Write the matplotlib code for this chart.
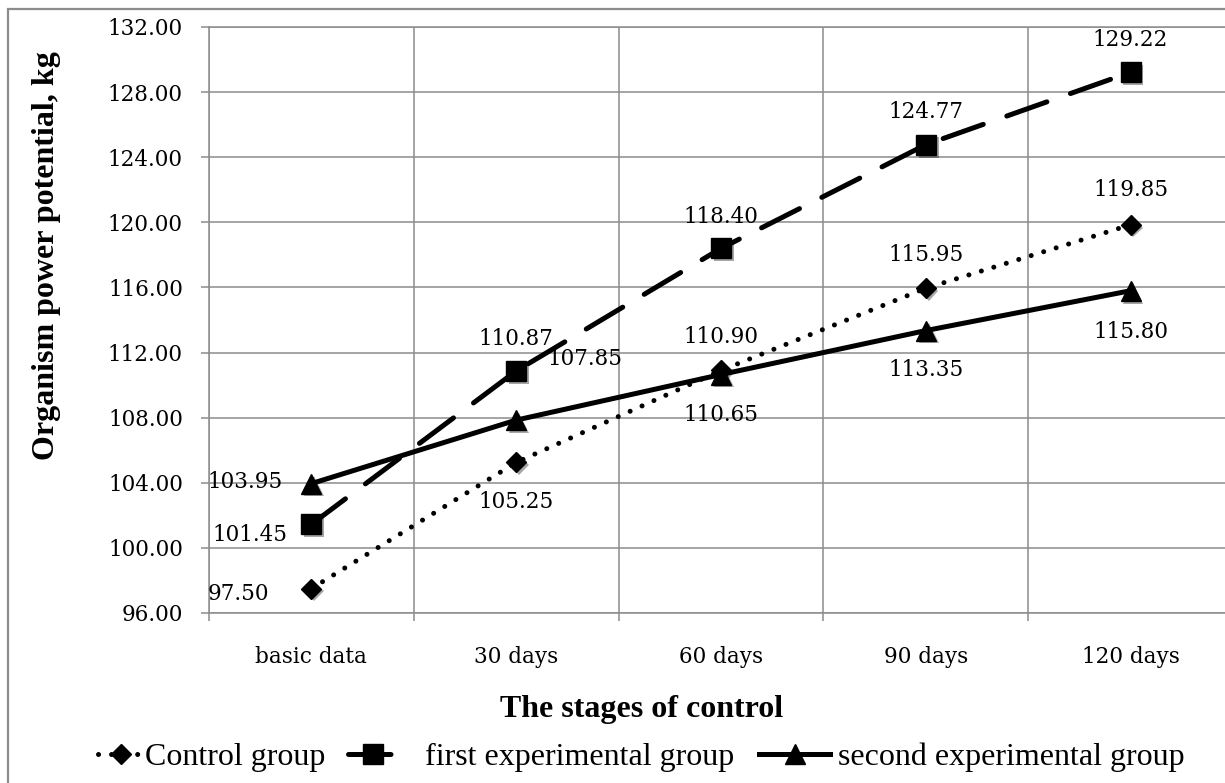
import numpy as np
import matplotlib
matplotlib.use('Agg')
import matplotlib.pyplot as plt
import matplotlib.patheffects as pe
from matplotlib.patches import Rectangle
from matplotlib.font_manager import FontProperties

# data
stages = ['basic data', '30 days', '60 days', '90 days', '120 days']
control = [97.50, 105.25, 110.90, 115.95, 119.85]
first_exp = [101.45, 110.87, 118.40, 124.77, 129.22]
second_exp = [103.95, 107.85, 110.65, 113.35, 115.80]
yticks = [96, 100, 104, 108, 112, 116, 120, 124, 128, 132]

# label offsets in pixels (dx right, dy down) from each point
off_control = [(-73, 3), (0, 37), (0, -36), (0, -36), (0, -37)]
off_first = [(-61, 8), (0, -34), (0, -34), (0, -35), (0, -35)]
off_second = [(-66, -4), (69, -64), (0, 38), (0, 37), (0, 39)]

W, H = 1225, 783
plt.rcParams['font.family'] = 'DejaVu Serif'
grid_c = '#8c8c8c'
times = 'Liberation Serif'

fig = plt.figure(figsize=(W / 100, H / 100), dpi=100)
ax = fig.add_axes([209 / W, 1 - 613 / H, 1024 / W, 586 / H])

x = np.arange(len(stages))
shadow = [pe.SimplePatchShadow(offset=(2, -2), alpha=0.35)]

# shadows under the markers
ax.plot(x, control, ls='none', marker='D', ms=10, color='black', path_effects=shadow, zorder=2)
ax.plot(x, first_exp, ls='none', marker='s', ms=14.5, color='black', path_effects=shadow, zorder=2)
ax.plot(x, second_exp, ls='none', marker='^', ms=14.5, color='black', path_effects=shadow, zorder=2)

l_first, = ax.plot(x, first_exp, color='black', lw=3.6, dashes=(8.5, 5), dash_capstyle='round',
                   marker='s', ms=14.5, zorder=3)
l_second, = ax.plot(x, second_exp, color='black', lw=3.6, marker='^', ms=14.5, zorder=4)
l_ctrl, = ax.plot(x, control, color='black', lw=3.6, dashes=(0.01, 2.6), dash_capstyle='round',
                  marker='D', ms=10, zorder=5)

for vals, offs in [(control, off_control), (first_exp, off_first), (second_exp, off_second)]:
    for i, v in enumerate(vals):
        dx, dy = offs[i]
        ax.annotate(f'{v:.2f}', (i, v), xytext=(dx, -dy), textcoords='offset pixels',
                    ha='center', va='center_baseline', fontsize=15.5, color='black', zorder=6)

ax.set_xlim(-0.5, len(stages) - 0.5)
ax.set_ylim(96, 132)
ax.set_xticks(np.arange(-0.5, len(stages), 1))
ax.set_xticklabels([])
ax.set_xticks(x, minor=True)
ax.set_xticklabels(stages, minor=True)
ax.set_yticks(yticks)
ax.set_yticklabels([f'{t:.2f}' for t in yticks])
ax.tick_params(axis='x', which='major', length=5.8, width=1.1, color=grid_c)
ax.tick_params(axis='x', which='minor', length=0, pad=24, labelsize=15.5)
ax.tick_params(axis='y', length=5.8, width=1.1, color=grid_c, pad=13, labelsize=15.5)
ax.grid(True, which='major', color=grid_c, lw=1.1)
ax.set_axisbelow(True)
for s in ax.spines.values():
    s.set_color(grid_c)
    s.set_linewidth(1.1)

fig.text(47 / W, 1 - 256 / H, 'Organism power potential, kg', rotation=90, ha='center', va='center',
         family=times, fontweight='bold', fontsize=23)
fig.text(642 / W, 1 - 717 / H, 'The stages of control', ha='center', va='baseline',
         family=times, fontweight='bold', fontsize=23)

lp = FontProperties(family=times, size=23)
ly = 1 - 757 / H
fig.legend(handles=[l_ctrl], labels=['Control group'], loc='center left', bbox_to_anchor=(98 / W, ly),
           frameon=False, borderpad=0, borderaxespad=0, handlelength=1.41, handletextpad=0.06, prop=lp)
fig.legend(handles=[l_first], labels=['first experimental group'], loc='center left',
           bbox_to_anchor=(348 / W, ly), frameon=False, borderpad=0, borderaxespad=0,
           handlelength=1.54, handletextpad=0.88, prop=lp)
fig.legend(handles=[l_second], labels=['second experimental group'], loc='center left',
           bbox_to_anchor=(759 / W, ly), frameon=False, borderpad=0, borderaxespad=0,
           handlelength=2.23, handletextpad=0.25, prop=lp)

# chart area border (cut off at right and bottom in the original)
fig.add_artist(Rectangle((8 / W, -0.05), 1.1, 1.05 - 9 / H, transform=fig.transFigure,
                         fill=False, ec=grid_c, lw=1.6))

fig.savefig('out.png', dpi=100)
